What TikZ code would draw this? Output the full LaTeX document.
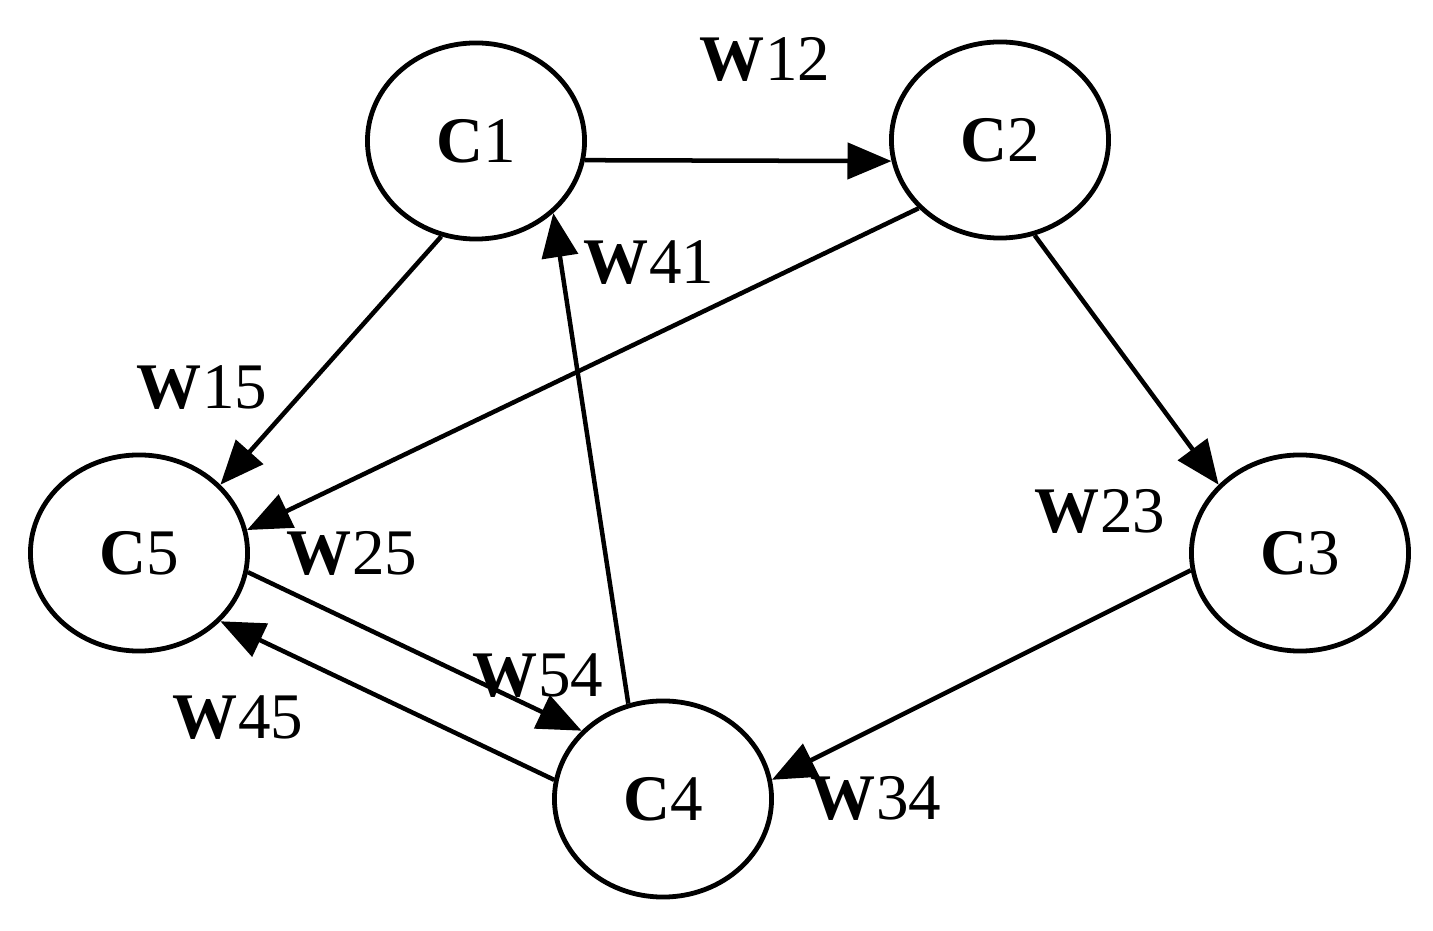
\documentclass[tikz,border=0pt]{standalone}
\usepackage{fontspec}
\setmainfont{Liberation Serif}
\usetikzlibrary{arrows.meta,shapes.geometric}
\begin{document}
\begin{tikzpicture}[x=0.01cm,y=-0.01cm,
  cnode/.style={draw,ellipse,line width=0.048cm,minimum width=2.17cm,minimum height=1.96cm,inner sep=0pt,font=\fontsize{18.5}{20}\selectfont},
  wlabel/.style={inner sep=0pt,font=\fontsize{18.5}{20}\selectfont},
  edge/.style={line width=0.045cm,-{Triangle[length=0.44cm,width=0.36cm]}}]
\useasboundingbox (0,0) rectangle (1433,931);
\node[cnode] (C1) at (476,141) {\textbf{C}1};
\node[cnode] (C2) at (1000,140) {\textbf{C}2};
\node[cnode] (C3) at (1300,553) {\textbf{C}3};
\node[cnode] (C4) at (663,799) {\textbf{C}4};
\node[cnode] (C5) at (139,553) {\textbf{C}5};
\draw[edge] (C1.-10.6) -- (C2.-169.2);
\draw[edge] (C1.-110.4) -- (C5.40.2);
\draw[edge] (C2.-140.9) -- (C5.12.2);
\draw[edge] (C2.-70.2) -- (C3.140.9);
\draw[edge] (C3.189.6) -- (C4.10.3);
\draw[edge] (C4.110) -- (C1.-43);
\draw[edge] (C5.-10.4) -- (C4.140.6);
\draw[edge] (C4.170.3) -- (C5.-40.4);
\node[wlabel] (w12) at (765,59) {\textbf{W}12};
\node[wlabel] (w41) at (649,263) {\textbf{W}41};
\node[wlabel] (w15) at (202,388) {\textbf{W}15};
\node[wlabel] (w25) at (352,553) {\textbf{W}25};
\node[wlabel] (w23) at (1100,511) {\textbf{W}23};
\node[wlabel] (w54) at (538,676) {\textbf{W}54};
\node[wlabel] (w45) at (238,718) {\textbf{W}45};
\node[wlabel] (w34) at (876,798) {\textbf{W}34};
\end{tikzpicture}
\end{document}
